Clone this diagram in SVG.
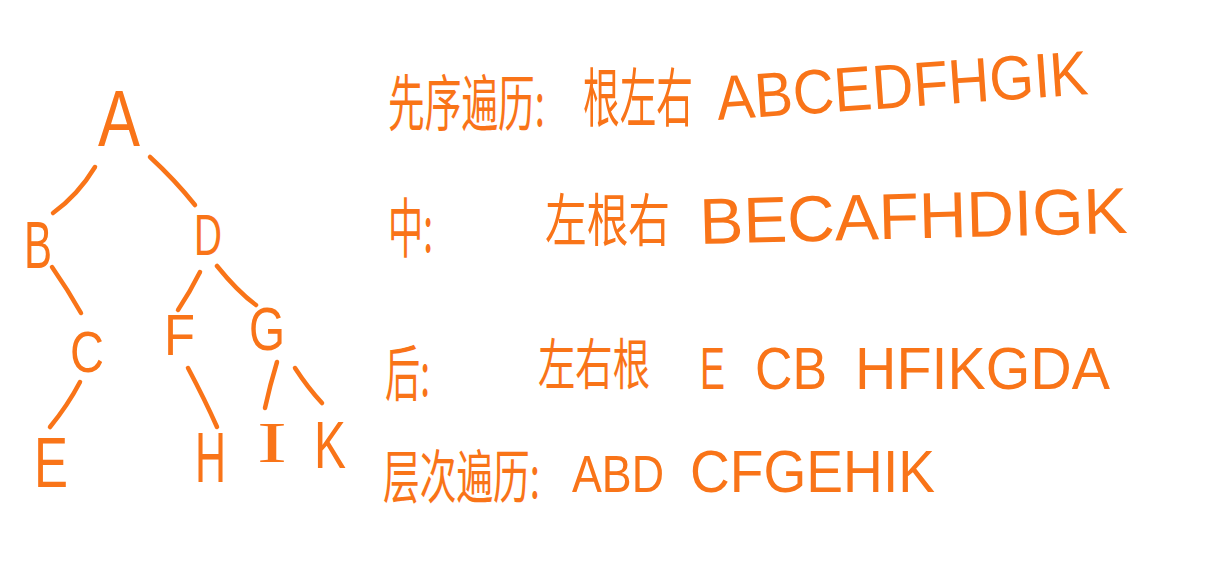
<svg xmlns="http://www.w3.org/2000/svg" width="1205" height="566" viewBox="0 0 1205 566">
<style>
.t{fill:#F97418;font-family:"Liberation Sans","Noto Sans CJK SC",sans-serif}
.s{fill:#F97418;font-family:"Liberation Serif",serif}
.c{fill:#F97418;font-family:"Noto Sans CJK SC",sans-serif}
.e{fill:none;stroke:#F97418;stroke-width:4.5;stroke-linecap:round;stroke-linejoin:round}
</style>
<rect width="1205" height="566" fill="#ffffff"/>
<g id="edges">
<path class="e" d="M95,167 Q78,195 53,213"/>
<path class="e" d="M150,157 Q175,180 195,205"/>
<path class="e" d="M52,267 Q68,290 81,313"/>
<path class="e" d="M80,382 Q68,405 50,427"/>
<path class="e" d="M200,272 Q190,292 178,310"/>
<path class="e" d="M217,266 Q238,292 256,305"/>
<path class="e" d="M188,368 Q205,400 217,427"/>
<path class="e" d="M277,362 Q270,385 265,408"/>
<path class="e" d="M295,368 Q308,388 322,403"/>
</g>
<g id="node-A"><text class="t" x="98" y="146" font-size="80" textLength="42" lengthAdjust="spacingAndGlyphs">A</text></g>
<g id="node-B"><text class="t" x="24" y="268" font-size="66" textLength="28" lengthAdjust="spacingAndGlyphs">B</text></g>
<g id="node-D"><text class="t" x="194" y="255" font-size="58" textLength="28" lengthAdjust="spacingAndGlyphs">D</text></g>
<g id="node-C"><text class="t" x="70" y="372" font-size="58" textLength="34" lengthAdjust="spacingAndGlyphs">C</text></g>
<g id="node-F"><text class="t" x="164" y="355" font-size="58" textLength="31" lengthAdjust="spacingAndGlyphs">F</text></g>
<g id="node-G"><text class="t" x="249" y="350" font-size="62" textLength="36" lengthAdjust="spacingAndGlyphs">G</text></g>
<g id="node-E"><text class="t" x="34" y="487" font-size="70" textLength="34" lengthAdjust="spacingAndGlyphs">E</text></g>
<g id="node-H"><text class="t" x="195" y="482" font-size="70" textLength="31" lengthAdjust="spacingAndGlyphs">H</text></g>
<g id="node-I"><text class="s" x="257" y="462" font-size="58" textLength="30" lengthAdjust="spacingAndGlyphs">I</text></g>
<g id="node-K"><text class="t" x="314" y="468" font-size="66" textLength="32" lengthAdjust="spacingAndGlyphs">K</text></g>
<g id="preorder">
<text class="c" transform="translate(388 126) scale(1 1.7)" font-size="36" textLength="157" lengthAdjust="spacingAndGlyphs">先序遍历:</text>
<text class="c" transform="translate(583 121) scale(1 1.75)" font-size="36.5" textLength="110" lengthAdjust="spacingAndGlyphs">根左右</text>
<text class="t" x="718" y="120" font-size="57" textLength="372" lengthAdjust="spacingAndGlyphs" transform="rotate(-4 718 120) translate(718 120) scale(1 1.1) translate(-718 -120)">ABCEDFHGIK</text>
</g>
<g id="inorder">
<text class="c" transform="translate(388 252) scale(1 1.8)" font-size="36" textLength="45" lengthAdjust="spacingAndGlyphs">中:</text>
<text class="c" transform="translate(545 241) scale(1 1.36)" font-size="41.5" textLength="125" lengthAdjust="spacingAndGlyphs">左根右</text>
<text class="t" x="700" y="244" font-size="65" textLength="428" lengthAdjust="spacingAndGlyphs" transform="rotate(-1.5 700 244)">BECAFHDIGK</text>
</g>
<g id="postorder">
<text class="c" transform="translate(385 396) scale(1 1.7)" font-size="36" textLength="45" lengthAdjust="spacingAndGlyphs">后:</text>
<text class="c" transform="translate(538 384) scale(1 1.47)" font-size="37" textLength="112" lengthAdjust="spacingAndGlyphs">左右根</text>
<text class="t" transform="translate(700 389) scale(1 1.6)" font-size="37.5" textLength="25" lengthAdjust="spacingAndGlyphs">E</text>
<text class="t" transform="translate(755 389) scale(1 1.15)" font-size="52" textLength="72" lengthAdjust="spacingAndGlyphs">CB</text>
<text class="t" transform="translate(855 389) scale(1 1.05)" font-size="57" textLength="255" lengthAdjust="spacingAndGlyphs">HFIKGDA</text>
</g>
<g id="levelorder">
<text class="c" transform="translate(383 498) scale(1 1.6)" font-size="36.5" textLength="157" lengthAdjust="spacingAndGlyphs">层次遍历:</text>
<text class="t" transform="translate(572 492) scale(1 1.15)" font-size="45" textLength="92" lengthAdjust="spacingAndGlyphs">ABD</text>
<text class="t" transform="translate(690 492) scale(1 1.08)" font-size="55" textLength="245" lengthAdjust="spacingAndGlyphs">CFGEHIK</text>
</g>
</svg>
